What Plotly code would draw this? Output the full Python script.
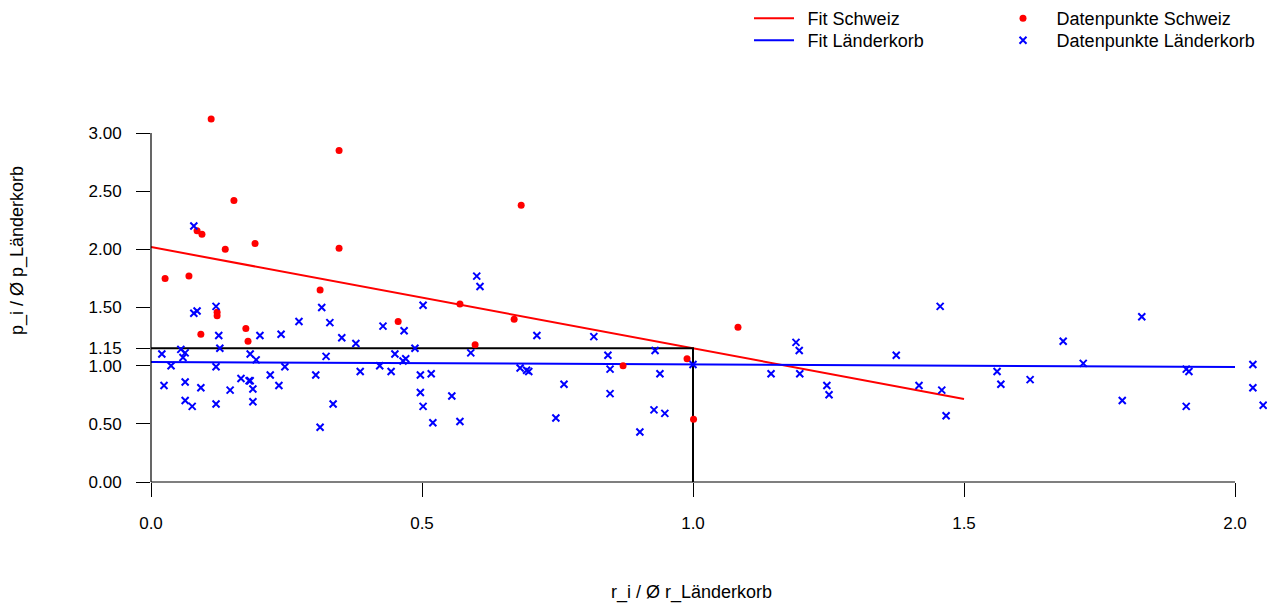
import plotly.graph_objects as go

# ---- data ----
ch_x = [0.111, 0.347, 0.683, 0.153, 0.085, 0.094, 0.137, 0.192, 0.347, 0.026,
        0.070, 0.312, 0.570, 0.670, 0.456, 1.083, 0.122, 0.122, 0.175, 0.092,
        0.179, 0.598, 0.989, 0.871, 1.001]
ch_y = [3.12, 2.85, 2.38, 2.42, 2.16, 2.13, 2.00, 2.05, 2.01, 1.75,
        1.77, 1.65, 1.53, 1.40, 1.38, 1.33, 1.46, 1.43, 1.32, 1.27,
        1.21, 1.18, 1.06, 1.00, 0.54]

lk_x = [0.079, 0.085, 0.120, 0.315, 0.273, 0.330, 0.125, 0.201, 0.240, 0.352,
        0.428, 0.467, 0.378, 0.127, 0.020, 0.055, 0.063, 0.059, 0.183, 0.194,
        0.323, 0.450, 0.465, 0.470, 0.487, 0.037, 0.120, 0.247, 0.304, 0.220,
        0.386, 0.422, 0.443, 0.497, 0.024, 0.063, 0.092, 0.146, 0.166, 0.181,
        0.183, 0.188, 0.236, 0.497, 0.063, 0.076, 0.120, 0.188, 0.336, 0.312,
        0.079, 0.601, 0.607, 0.502, 0.712, 0.817, 0.590, 0.843, 0.930, 0.681,
        0.693, 0.697, 0.847, 1.000, 0.517, 0.939, 0.762, 0.555, 0.847, 0.502,
        0.928, 0.948, 0.520, 0.570, 0.747, 0.902, 1.144, 1.190, 1.196, 1.197,
        1.247, 1.251, 1.375, 1.456, 1.417, 1.459, 1.467, 1.561, 1.568, 1.622,
        1.683, 1.720, 1.828, 1.792, 1.910, 1.915, 1.910, 2.033, 2.033, 2.052]
lk_y = [1.45, 1.47, 1.51, 1.50, 1.38, 1.37, 1.26, 1.26, 1.27, 1.24,
        1.34, 1.30, 1.19, 1.15, 1.10, 1.14, 1.11, 1.07, 1.10, 1.05,
        1.08, 1.10, 1.04, 1.06, 1.15, 1.00, 0.99, 0.99, 0.92, 0.92,
        0.95, 1.00, 0.95, 0.92, 0.83, 0.86, 0.81, 0.79, 0.89, 0.87,
        0.87, 0.80, 0.83, 0.77, 0.70, 0.65, 0.67, 0.69, 0.67, 0.47,
        2.20, 1.77, 1.68, 1.52, 1.26, 1.25, 1.11, 1.09, 1.13, 0.98,
        0.96, 0.95, 0.97, 1.01, 0.93, 0.93, 0.84, 0.74, 0.76, 0.65,
        0.62, 0.59, 0.51, 0.52, 0.55, 0.43, 0.93, 1.20, 1.13, 0.93,
        0.83, 0.75, 1.09, 1.51, 0.83, 0.79, 0.57, 0.95, 0.84, 0.88,
        1.21, 1.02, 1.42, 0.70, 0.97, 0.95, 0.65, 1.01, 0.81, 0.66]

fit_ch_x = [0.0, 1.5]
fit_ch_y = [2.02, 0.714]
fit_lk_x = [0.0, 2.0]
fit_lk_y = [1.032, 0.989]

ref_x = 1.0
ref_y = 1.15

x_ticks = [0, 0.5, 1, 1.5, 2]
x_ticktext = ["0.0", "0.5", "1.0", "1.5", "2.0"]
y_ticks = [0, 0.5, 1, 1.15, 1.5, 2, 2.5, 3]
y_ticktext = ["0.00", "0.50", "1.00", "1.15", "1.50", "2.00", "2.50", "3.00"]

# ---- geometry ----
W, H = 1279, 605
ML, MR, MT, MB = 151, 12, 60, 123
PW = W - ML - MR
PH = H - MT - MB
XMAX = PW / 542.0
YMAX = PH / 116.33

FONT = "Liberation Sans, Arial, sans-serif"
FS = 17
FS_T = 18
PAD = "\u00a0\u2009"


def px_x(px):
    return (px - ML) / PW


def px_y(py):
    return (H - MB - py) / PH


fig = go.Figure()

fig.add_trace(go.Scatter(x=fit_ch_x, y=fit_ch_y, mode="lines",
                         line=dict(color="#FF0000", width=2),
                         name=PAD + "Fit Schweiz", legend="legend"))
fig.add_trace(go.Scatter(x=fit_lk_x, y=fit_lk_y, mode="lines",
                         line=dict(color="#0000FF", width=2),
                         name=PAD + "Fit Länderkorb", legend="legend2"))
fig.add_trace(go.Scatter(x=[0, ref_x, ref_x], y=[ref_y, ref_y, 0], mode="lines",
                         line=dict(color="black", width=2), showlegend=False,
                         hoverinfo="skip"))
fig.add_trace(go.Scatter(x=ch_x, y=ch_y, mode="markers",
                         marker=dict(color="#FF0000", size=7, symbol="circle"),
                         name=PAD + "Datenpunkte Schweiz", legend="legend3"))
fig.add_trace(go.Scatter(x=lk_x, y=lk_y, mode="markers",
                         marker=dict(color="#0000FF", size=7, symbol="x-thin-open",
                                     line=dict(color="#0000FF", width=2)),
                         name=PAD + "Datenpunkte Länderkorb", legend="legend4"))
fig.add_trace(go.Scatter(x=[ref_x], y=[ref_y], mode="markers",
                         marker=dict(color="rgba(0,0,0,0)", size=11, symbol="circle-open",
                                     line=dict(color="black", width=1.3)),
                         showlegend=False, hoverinfo="skip"))

# axis lines (from 0 to last tick, as in the reference)
fig.add_shape(type="line", xref="paper", yref="paper",
              x0=0, x1=2.0 / XMAX, y0=0, y1=0, line=dict(color="black", width=1.2))
fig.add_shape(type="line", xref="paper", yref="paper",
              x0=0, x1=0, y0=0, y1=3.0 / YMAX, line=dict(color="black", width=1.2))

fig.add_annotation(text="r_i / Ø r_Länderkorb", xref="paper", yref="paper",
                   x=px_x(691), y=px_y(592),
                   showarrow=False, font=dict(size=FS_T, color="black", family=FONT),
                   xanchor="center", yanchor="middle")
fig.add_annotation(text="p_i / Ø p_Länderkorb", xref="paper", yref="paper",
                   x=px_x(18), y=px_y(251), textangle=-90,
                   showarrow=False, font=dict(size=FS_T, color="black", family=FONT),
                   xanchor="center", yanchor="middle")


def leg(px, py):
    return dict(x=px_x(px), y=px_y(py), xanchor="left", yanchor="top",
                bgcolor="rgba(0,0,0,0)", borderwidth=0,
                font=dict(size=FS_T, family=FONT, color="black"),
                tracegroupgap=0, itemwidth=40)


fig.update_layout(
    width=W, height=H,
    margin=dict(l=ML, r=MR, t=MT, b=MB, pad=0, autoexpand=False),
    paper_bgcolor="white", plot_bgcolor="white",
    font=dict(family=FONT, size=FS, color="black"),
    xaxis=dict(range=[0, XMAX], tickvals=x_ticks, ticktext=x_ticktext,
               ticks="outside", ticklen=14, tickwidth=1.2, tickcolor="black",
               showgrid=False, zeroline=False, showline=False,
               ticklabelstandoff=12, tickfont=dict(size=FS, family=FONT)),
    yaxis=dict(range=[0, YMAX], tickvals=y_ticks, ticktext=y_ticktext,
               ticks="outside", ticklen=14, tickwidth=1.2, tickcolor="black",
               showgrid=False, zeroline=False, showline=False,
               ticklabelstandoff=11, tickfont=dict(size=FS, family=FONT)),
    legend=leg(749, 0),
    legend2=leg(749, 22),
    legend3=leg(998, 0),
    legend4=leg(998, 22),
    showlegend=True,
)

fig.write_html("out.html")
